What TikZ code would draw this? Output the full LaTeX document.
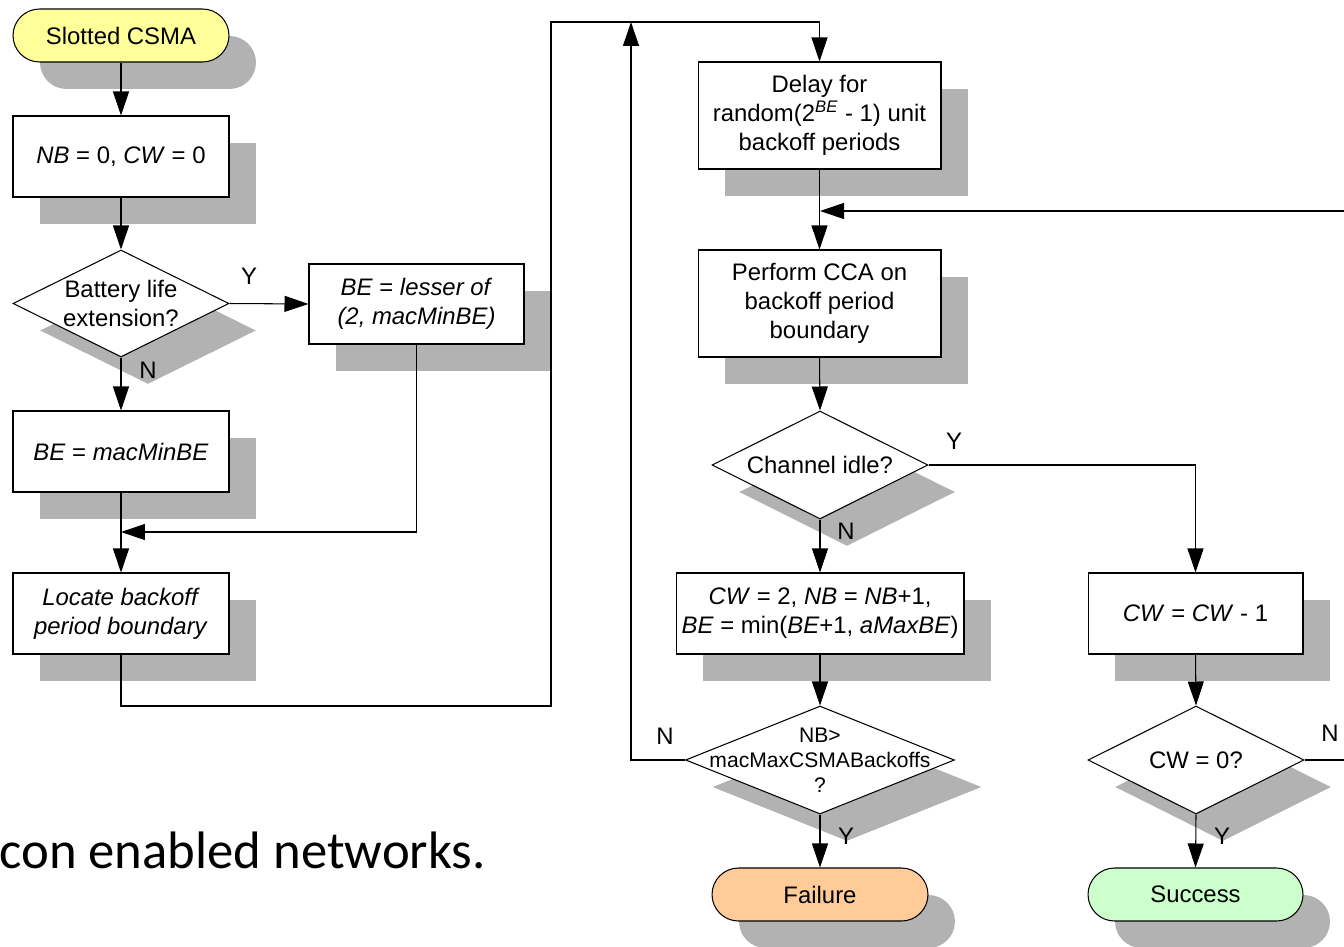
\documentclass[tikz,border=0pt]{standalone}
\usepackage{fontspec}
\setmainfont{Liberation Sans}
\newfontfamily\slidefont{Carlito}
\usetikzlibrary{shapes.geometric,arrows.meta,shadows}
\definecolor{shadowgray}{HTML}{B2B2B2}
\definecolor{startyellow}{HTML}{FFFF99}
\definecolor{failorange}{HTML}{FFCC99}
\definecolor{okgreen}{HTML}{CCFFCC}

\begin{document}
\begin{tikzpicture}[x=0.02cm, y=-0.02cm,
  font=\fontsize{13.6}{16.5}\selectfont,
  every node/.style={inner sep=0pt},
  dropgray/.style={general shadow={shadow xshift=0.54cm, shadow yshift=-0.54cm, fill=shadowgray}},
  proc/.style={draw, fill=white, rectangle, align=center, line width=0.6pt, dropgray},
  box/.style={proc, minimum width=4.32cm, minimum height=1.62cm},
  term/.style={proc, rounded corners=0.53cm, minimum width=4.32cm, minimum height=1.06cm},
  decision/.style={draw, fill=white, diamond, line width=0.6pt, dropgray},
  flow/.style={line width=0.6pt, -{Triangle[length=4.8mm,width=3.2mm]}}]

\useasboundingbox (0,0) rectangle (1344,946);
\clip (0,0) rectangle (1344,946);

% left column: initialisation
\node[term, fill=startyellow] (start) at (121,35.5) {Slotted CSMA};
\node[box] (nb) at (121,156.5) {\textit{NB} = 0, \textit{CW} = 0};
\node[decision, minimum width=4.32cm, minimum height=2.14cm,
      label={[align=center]center:Battery life\\extension?}] (bat) at (121,303.5) {};
\node[box, minimum width=4.3cm, minimum height=1.6cm] (lesser) at (416.5,304)
      {\textit{BE} = \textit{lesser of}\\\textit{(2, macMinBE)}};
\node[box] (minbe) at (121,451.5) {\textit{BE} = \textit{macMinBE}};
\node[box] (locate) at (121,613.5) {\textit{Locate backoff}\\\textit{period boundary}};

% right column: backoff loop
\node[box, minimum width=4.86cm, minimum height=2.14cm] (delay) at (819.5,115.5)
      {Delay for\\random(2\textsuperscript{\textit{BE}} - 1) unit\\backoff periods};
\node[box, minimum width=4.86cm, minimum height=2.14cm] (cca) at (819.5,303.5)
      {Perform CCA on\\backoff period\\boundary};
\node[decision, minimum width=4.32cm, minimum height=2.16cm,
      label=center:Channel idle?] (idle) at (820,465) {};
\node[box, minimum width=5.76cm] (cw2) at (820,613.5)
      {\textit{CW} = 2, \textit{NB} = \textit{NB}+1,\\\textit{BE} = min(\textit{BE}+1, \textit{aMaxBE})};
\node[box, minimum width=4.3cm] (cwm) at (1195.5,613.5) {\textit{CW} = \textit{CW} - 1};
\node[decision, minimum width=5.38cm, minimum height=2.16cm,
      label={[align=center, font=\fontsize{12}{14.2}\selectfont]center:NB>\\macMaxCSMABackoffs\\?}] (nbmax) at (820,760) {};
\node[decision, minimum width=4.32cm, minimum height=2.16cm,
      label=center:{CW = 0?}] (cw0) at (1196,760) {};
\node[term, fill=failorange] (fail) at (820,894.5) {Failure};
\node[term, fill=okgreen, minimum width=4.3cm] (succ) at (1195.5,894.5) {Success};

% routing points
\coordinate (j1) at (121,532);
\coordinate (r1) at (551,706);
\coordinate (r2) at (551,22);
\coordinate (up) at (631,22);
\coordinate (lft) at (631,760);
\coordinate (j2) at (820,211);
\coordinate (rt1) at (1370,760);
\coordinate (rt2) at (1370,211);

% connectors
\draw[flow] (start.south) -- (nb.north);
\draw[flow] (nb.south) -- (bat.north);
\draw[flow] (bat.east) -- (lesser.west);
\draw[flow] (bat.south) -- (minbe.north);
\draw[flow] (minbe.south) -- (locate.north);
\draw[flow] (lesser.south) |- (j1);
\draw[flow] (locate.south) |- (r1) -- (r2) -| (delay.north);
\draw[flow] (delay.south) -- (cca.north);
\draw[flow] (cw0.east) -- (rt1) -- (rt2) -- (j2);
\draw[flow] (cca.south) -- (idle.north);
\draw[flow] (idle.east) -| (cwm.north);
\draw[flow] (idle.south) -- (cw2.north);
\draw[flow] (cw2.south) -- (nbmax.north);
\draw[flow] (cwm.south) -- (cw0.north);
\draw[flow] (nbmax.west) -- (lft) -- (up);
\draw[flow] (nbmax.south) -- (fail.north);
\draw[flow] (cw0.south) -- (succ.north);

% branch labels
\node (ybat) at (249,276) {Y};
\node (nbat) at (148,370) {N};
\node (yidle) at (954,441) {Y};
\node (nidle) at (846,531) {N};
\node (nnb) at (665,736) {N};
\node (ynb) at (846,836) {Y};
\node (ncw) at (1330,733) {N};
\node (ycw) at (1222,836) {Y};

% slide text behind the chart
\node[anchor=base east, font=\slidefont\fontsize{30}{36}\selectfont] (note) at (486,868) {con enabled networks.};
\end{tikzpicture}
\end{document}
